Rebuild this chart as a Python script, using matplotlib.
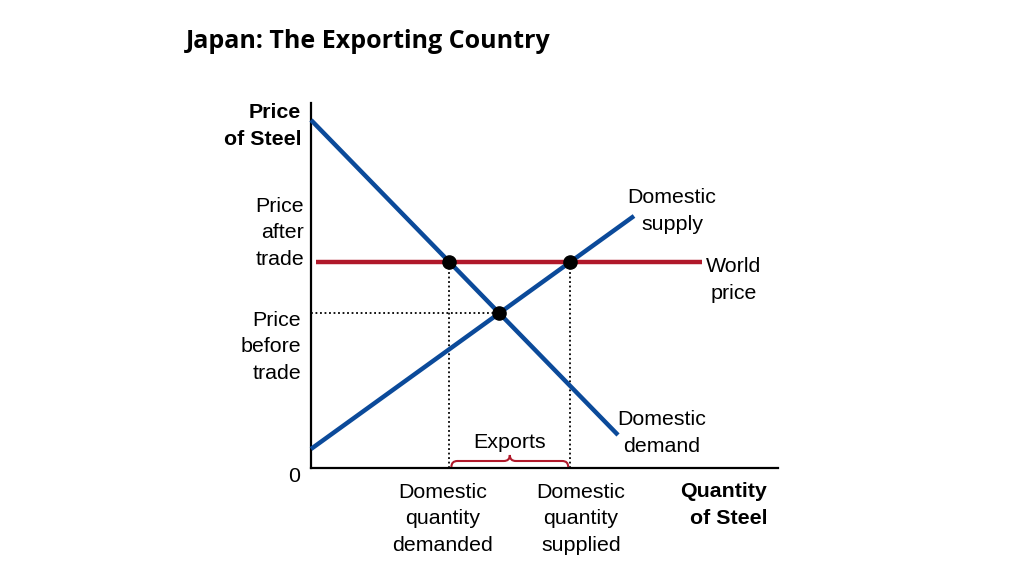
import numpy as np
import matplotlib
matplotlib.use("Agg")
import matplotlib.pyplot as plt
from matplotlib.path import Path
from matplotlib.patches import PathPatch

plt.rcParams['font.family'] = ['Liberation Sans', 'DejaVu Sans']

# diagram units (axis origin at 0,0)
demand_q = [0, 307]
demand_p = [348, 33]
supply_q = [0, 323]
supply_p = [19, 252]
world_price = 206
world_q = [5, 391]

blue = '#0B4A9A'
red = '#B0182A'

def line_at(q, p, price):
    # quantity on a straight line at a given price
    return q[0] + (price - p[0]) * (q[1] - q[0]) / (p[1] - p[0])

q_dem = line_at(demand_q, demand_p, world_price)
q_sup = line_at(supply_q, supply_p, world_price)
sd = (demand_p[1] - demand_p[0]) / (demand_q[1] - demand_q[0])
ss = (supply_p[1] - supply_p[0]) / (supply_q[1] - supply_q[0])
q_eq = (supply_p[0] - demand_p[0]) / (sd - ss)
p_eq = demand_p[0] + sd * q_eq

fig = plt.figure(figsize=(10.24, 5.76), dpi=100)
ax = fig.add_axes([311 / 1024, 108 / 576, 467 / 1024, 365 / 576])
ax.set_xlim(0, 467)
ax.set_ylim(0, 365)
for s in ['top', 'right']:
    ax.spines[s].set_visible(False)
for s in ['left', 'bottom']:
    ax.spines[s].set_linewidth(1.6)
ax.set_xticks([])
ax.set_yticks([])

# dotted guides
ax.plot([q_dem, q_dem], [0, world_price], color='black', lw=1.3, ls=(0, (1, 1.5)), zorder=2)
ax.plot([q_sup, q_sup], [0, world_price], color='black', lw=1.3, ls=(0, (1, 1.5)), zorder=2)
ax.plot([0, q_eq], [p_eq, p_eq], color='black', lw=1.3, ls=(0, (1, 1.5)), zorder=2)

ax.plot(world_q, [world_price, world_price], color=red, lw=3.2, solid_capstyle='butt', zorder=3)
ax.plot(demand_q, demand_p, color=blue, lw=3.2, solid_capstyle='butt', zorder=4, clip_on=False)
ax.plot(supply_q, supply_p, color=blue, lw=3.2, solid_capstyle='butt', zorder=4, clip_on=False)

ax.scatter([q_dem, q_sup, q_eq], [world_price, world_price, p_eq], s=90, color='black', zorder=5)

# brace for exports
x0, x1 = q_dem + 2, q_sup - 2
xm = (x0 + x1) / 2
verts = [(x0, 1), (x0, 7), (x0 + 6, 7), (x0 + 6, 7),
         (xm - 6, 7), (xm - 6, 7), (xm, 7), (xm, 13),
         (xm, 7), (xm + 6, 7), (xm + 6, 7),
         (x1 - 6, 7), (x1 - 6, 7), (x1, 7), (x1, 1)]
codes = [Path.MOVETO, Path.CURVE3, Path.CURVE3, Path.LINETO,
         Path.LINETO, Path.LINETO, Path.CURVE3, Path.CURVE3,
         Path.CURVE3, Path.CURVE3, Path.LINETO,
         Path.LINETO, Path.LINETO, Path.CURVE3, Path.CURVE3]
ax.add_patch(PathPatch(Path(verts, codes), fill=False, edgecolor=red, lw=1.5, zorder=3))

fs = 15.4
kw = dict(fontsize=fs, linespacing=1.49, clip_on=False)
ax.text(-10, 342, 'Price\nof Steel', ha='right', va='center', fontweight='bold', **kw)
ax.text(-7, 235, 'Price\nafter\ntrade', ha='right', va='center', **kw)
ax.text(-10, 121, 'Price\nbefore\ntrade', ha='right', va='center', **kw)
ax.text(-17, -9, '0', ha='center', va='center', **kw)
ax.text(361, 257, 'Domestic\nsupply', ha='center', va='center', **kw)
ax.text(423, 188, 'World\nprice', ha='center', va='center', **kw)
ax.text(351, 35, 'Domestic\ndemand', ha='center', va='center', **kw)
ax.text(199, 25, 'Exports', ha='center', va='center', **kw)
ax.text(132, -51, 'Domestic\nquantity\ndemanded', ha='center', va='center', **kw)
ax.text(270, -51, 'Domestic\nquantity\nsupplied', ha='center', va='center', **kw)
ax.text(456, -37, 'Quantity\nof Steel', ha='right', va='center', fontweight='bold', **kw)

fig.text(186 / 1024, 1 - 41 / 576, 'Japan: The Exporting Country', ha='left', va='center',
         fontsize=18, fontweight='bold', family=['Open Sans', 'DejaVu Sans'])

fig.savefig('out.png', dpi=100)
